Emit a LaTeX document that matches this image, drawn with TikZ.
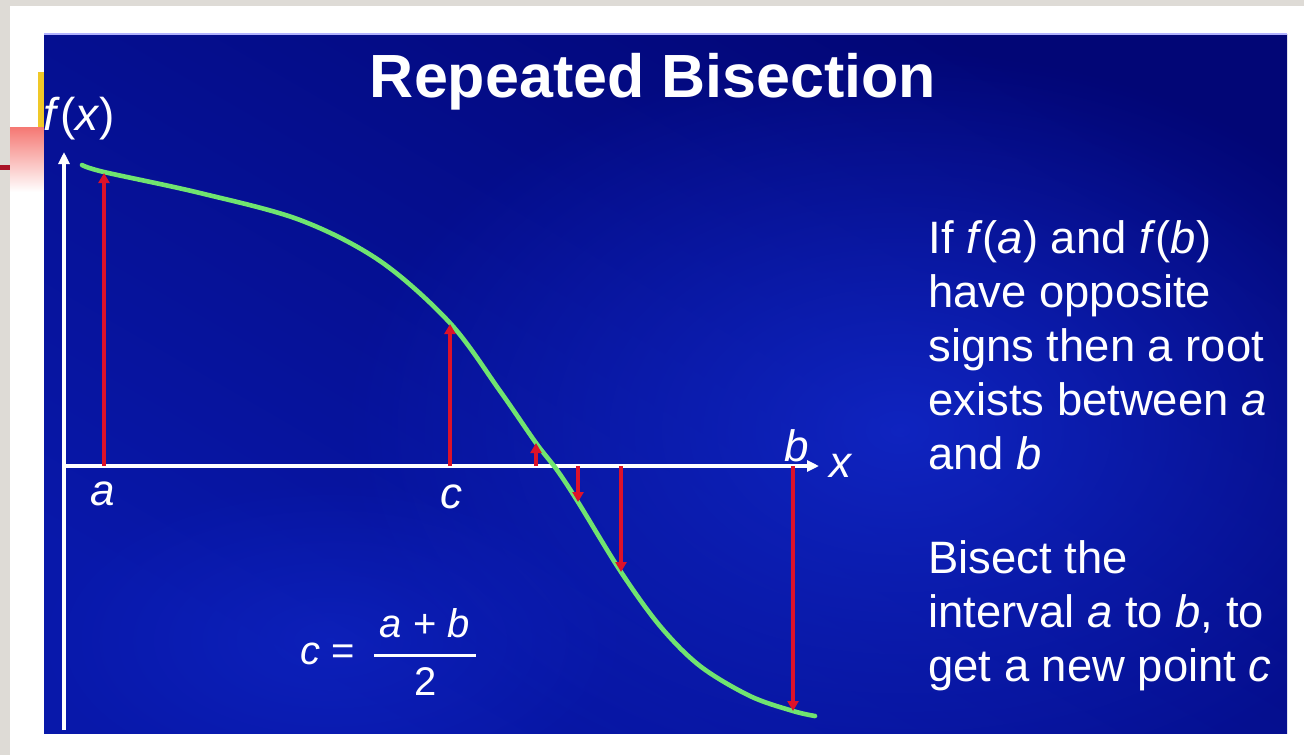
\documentclass[tikz,border=0pt]{standalone}
\usepackage{fontspec}
\setmainfont{Liberation Sans}
\usetikzlibrary{arrows.meta,fadings}
\definecolor{bggray}{RGB}{222,219,214}
\definecolor{navy}{RGB}{2,6,118}
\definecolor{brightblue}{RGB}{18,42,205}
\definecolor{midblue}{RGB}{8,24,170}
\definecolor{yellowbar}{RGB}{240,200,40}
\definecolor{salmon}{RGB}{245,120,115}
\definecolor{darkred}{RGB}{170,20,40}
\definecolor{redarr}{RGB}{220,18,42}
\definecolor{curvegreen}{RGB}{112,228,112}
\tikzfading[name=softglow, inner color=transparent!20, outer color=transparent!100]
\tikzset{
  axisline/.style={white, line width=1.6pt, -{Triangle[length=6pt,width=5.5pt]}},
  redarrow/.style={redarr, line width=1.8pt, -{Triangle[length=5pt,width=5.5pt]}},
  curveline/.style={curvegreen, line width=2.3pt, line cap=round},
  lbl/.style={white, inner sep=0pt, font=\fontsize{22}{26}\selectfont\itshape},
  bodytext/.style={white, inner sep=0pt, anchor=base west, font=\fontsize{22.7}{27}\selectfont},
  formula/.style={white, inner sep=0pt, font=\fontsize{20}{24}\selectfont},
}
\begin{document}
\begin{tikzpicture}[x=0.5pt,y=-0.5pt]
\useasboundingbox (0,0) rectangle (1304,755);
% page background
\fill[bggray] (0,0) rectangle (1304,755);
\fill[white] (10,6) rectangle (1304,755);
\fill[yellowbar] (38,72) rectangle (44,127);
\shade[top color=salmon, bottom color=white] (10,127) rectangle (44,192);
\fill[darkred] (0,165) rectangle (10,170);
% slide panel
\shade[top color=navy, bottom color=midblue, shading angle=-30] (44,34) rectangle (1287,733);
\begin{scope}
  \clip (44,34) rectangle (1287,733);
  \fill[brightblue, path fading=softglow] (900,430) ellipse [x radius=560, y radius=380];
  \fill[brightblue, path fading=softglow, opacity=0.6] (330,640) ellipse [x radius=300, y radius=160];
\end{scope}
\draw[white!70!blue, line width=0.6pt] (44,34) -- (1287,34);

% title
\node[white, inner sep=0pt, anchor=base, font=\fontsize{30.5}{36}\selectfont\bfseries] (title) at (653,97) {Repeated Bisection};

% axes
\coordinate (O) at (64,466);
\coordinate (ytop) at (64,152);
\coordinate (ybot) at (64,730);
\coordinate (xend) at (819,466);
\draw[axisline] (ybot) -- (ytop);
\draw[axisline] (O) -- (xend);

% curve
\draw[curveline] plot[smooth, tension=0.55] coordinates {(82,165) (104,172) (200,193) (300,220) (380,261) (450,323) (500,391) (536,443) (557,470) (578,502) (621,572) (660,626) (700,666) (750,696) (793,711) (815,716)};

% red arrows
\coordinate (pa) at (104,466);  \coordinate (fa) at (104,173);
\coordinate (pc) at (450,466);  \coordinate (fc) at (450,324);
\coordinate (p3) at (536,466);  \coordinate (f3) at (536,443);
\coordinate (p4) at (578,466);  \coordinate (f4) at (578,502);
\coordinate (p5) at (621,466);  \coordinate (f5) at (621,572);
\coordinate (pb) at (793,466);  \coordinate (fb) at (793,711);
\draw[redarrow] (pa) -- (fa);
\draw[redarrow] (pc) -- (fc);
\draw[redarrow] (p3) -- (f3);
\draw[redarrow] (p4) -- (f4);
\draw[redarrow] (p5) -- (f5);
\draw[redarrow] (pb) -- (fb);

% axis labels
\node[white, inner sep=0pt, anchor=base west, font=\fontsize{23}{27}\selectfont] (fx) at (43,130) {\textit{f}(\textit{x})};
\node[lbl, anchor=base] (la) at (103,505) {a};
\node[lbl, anchor=base] (lc) at (451,508) {c};
\node[lbl, anchor=base] (lb) at (797,461) {b};
\node[lbl, anchor=base] (lx) at (840,477) {x};

% formula
\node[formula, anchor=base west] (ceq) at (300,664) {\textit{c} =};
\node[formula, anchor=base] (num) at (425,637) {\textit{a} + \textit{b}};
\node[formula, anchor=base] (den) at (426,695) {2};
\coordinate (barL) at (374,655);
\coordinate (barR) at (476,655);
\draw[white, line width=1.5pt] (barL) -- (barR);

% right text
\node[bodytext] (t1) at (928,253) {If \textit{f}(\textit{a}) and \textit{f}(\textit{b})};
\node[bodytext] (t2) at (928,307) {have opposite};
\node[bodytext] (t3) at (928,361) {signs then a root};
\node[bodytext] (t4) at (928,415) {exists between \textit{a}};
\node[bodytext] (t5) at (928,469) {and \textit{b}};
\node[bodytext] (t6) at (928,573) {Bisect the};
\node[bodytext] (t7) at (928,627) {interval \textit{a} to \textit{b}, to};
\node[bodytext] (t8) at (928,681) {get a new point \textit{c}};
\end{tikzpicture}
\end{document}
